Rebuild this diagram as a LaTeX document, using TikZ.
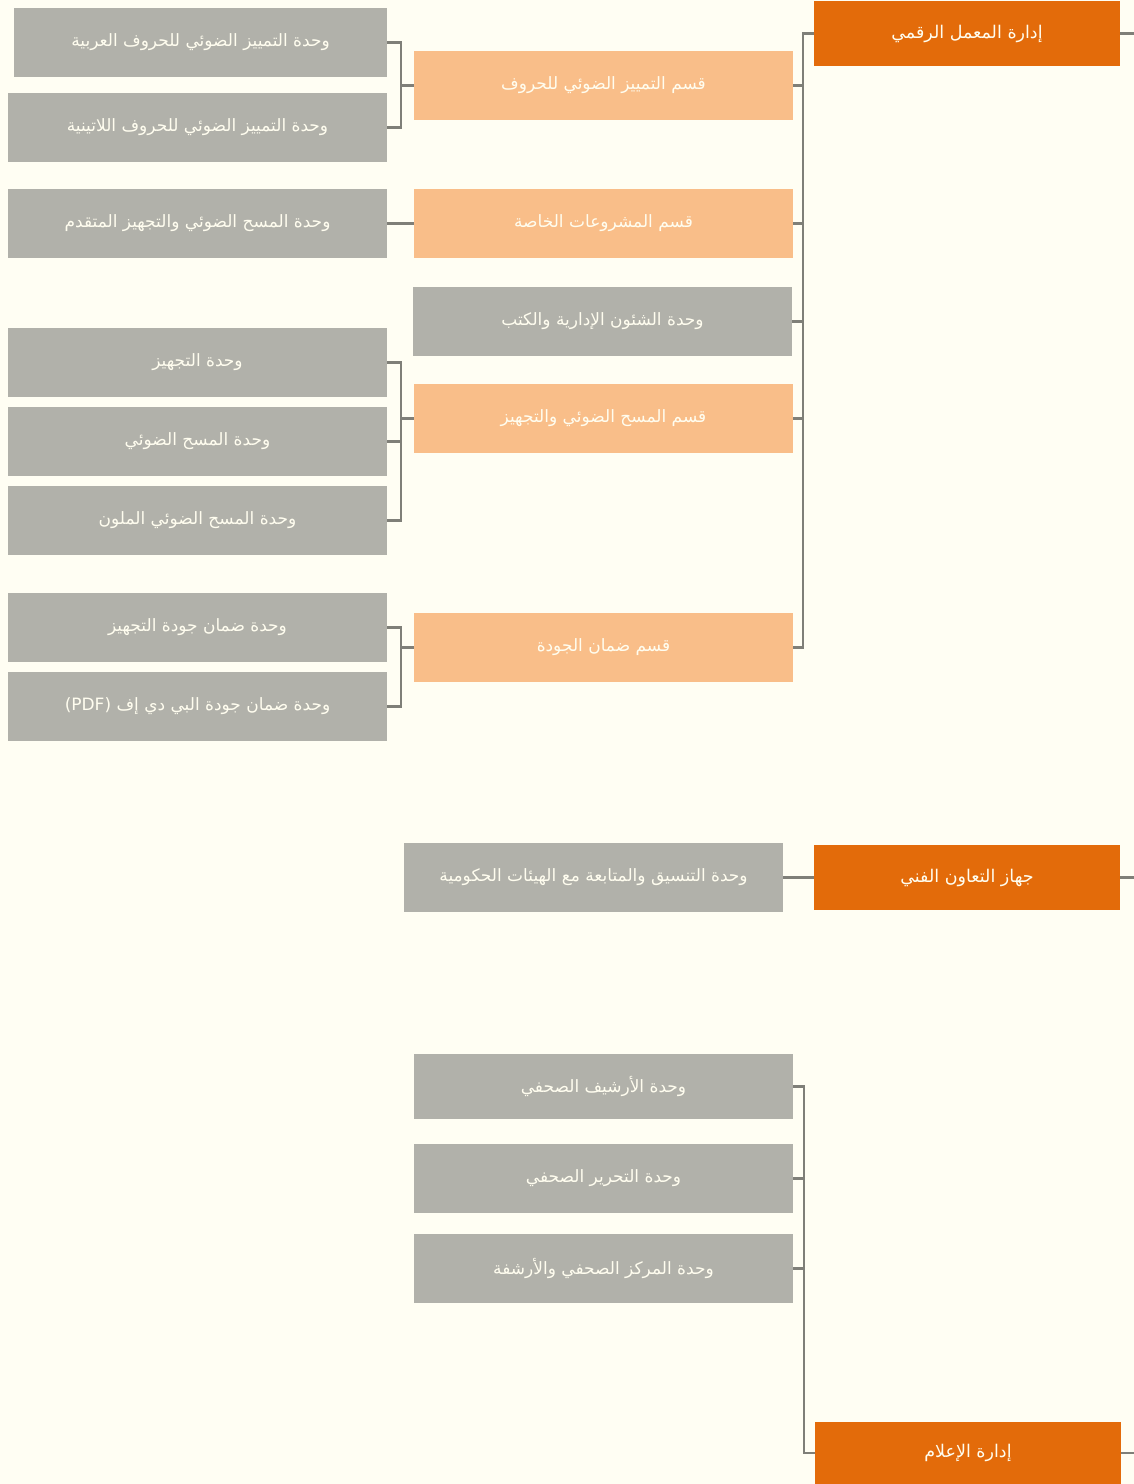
\documentclass[tikz,border=0pt]{standalone}
\usepackage{fontspec}
\newfontfamily\arabicfont[Script=Arabic]{DejaVu Sans}
\TeXXeTstate=1
\definecolor{bgcol}{HTML}{FFFEF3}
\definecolor{orangecol}{HTML}{E36B0A}
\definecolor{peachcol}{HTML}{F9BE89}
\definecolor{greycol}{HTML}{B1B1AA}
\definecolor{linecol}{HTML}{7F7F78}
\definecolor{txtcol}{HTML}{FFFDEF}
\begin{document}
\begin{tikzpicture}[x=1pt,y=-1pt,
  basebox/.style={rectangle, inner sep=0pt, minimum width=379pt, minimum height=69pt,
    text=txtcol, font=\arabicfont\fontsize{17}{20}\selectfont},
  topbox/.style={basebox, fill=orangecol, minimum width=306pt, minimum height=65pt,
    font=\arabicfont\fontsize{17.5}{21}\selectfont},
  secbox/.style={basebox, fill=peachcol},
  unitbox/.style={basebox, fill=greycol},
  conn/.style={draw=linecol, line width=2.5pt}]
\fill[bgcol] (0,0) rectangle (1134,1484);
\useasboundingbox (0,0) rectangle (1134,1484);

% level 1
\node[topbox] (d1) at (967,33.5) {\beginR إدارة المعمل الرقمي\endR};
\node[topbox] (d2) at (967,877.5) {\beginR جهاز التعاون الفني\endR};
\node[topbox, minimum height=62pt] (d3) at (968,1453) {\beginR إدارة الإعلام\endR};

% level 2
\node[secbox] (s1) at (603.5,85.5) {\beginR قسم التمييز الضوئي للحروف\endR};
\node[secbox] (s2) at (603.5,223.5) {\beginR قسم المشروعات الخاصة\endR};
\node[unitbox] (s3) at (602.5,321.5) {\beginR وحدة الشئون الإدارية والكتب\endR};
\node[secbox] (s4) at (603.5,418.5) {\beginR قسم المسح الضوئي والتجهيز\endR};
\node[secbox] (s5) at (603.5,647.5) {\beginR قسم ضمان الجودة\endR};

\node[unitbox] (t1) at (593.5,877.5) {\beginR وحدة التنسيق والمتابعة مع الهيئات الحكومية\endR};

\node[unitbox, minimum height=65pt] (m1) at (603.5,1086.5) {\beginR وحدة الأرشيف الصحفي\endR};
\node[unitbox] (m2) at (603.5,1178.5) {\beginR وحدة التحرير الصحفي\endR};
\node[unitbox] (m3) at (603.5,1268.5) {\beginR وحدة المركز الصحفي والأرشفة\endR};

% level 3
\node[unitbox, minimum width=373pt] (u1) at (200.5,42.5) {\beginR وحدة التمييز الضوئي للحروف العربية\endR};
\node[unitbox] (u2) at (197.5,127.5) {\beginR وحدة التمييز الضوئي للحروف اللاتينية\endR};
\node[unitbox] (u3) at (197.5,223.5) {\beginR وحدة المسح الضوئي والتجهيز المتقدم\endR};
\node[unitbox] (u4) at (197.5,362.5) {\beginR وحدة التجهيز\endR};
\node[unitbox] (u5) at (197.5,441.5) {\beginR وحدة المسح الضوئي\endR};
\node[unitbox] (u6) at (197.5,520.5) {\beginR وحدة المسح الضوئي الملون\endR};
\node[unitbox] (u7) at (197.5,627.5) {\beginR وحدة ضمان جودة التجهيز\endR};
\node[unitbox] (u8) at (197.5,706.5) {(PDF) \beginR وحدة ضمان جودة البي دي إف\endR};

% right free ends
\coordinate (e1) at (1134,33.5);
\coordinate (e2) at (1134,877.5);
\coordinate (e3) at (1134,1453);
\draw[conn] (d1.east) -- (e1);
\draw[conn] (d2.east) -- (e2);
\draw[conn] (d3.east) -- (e3);

% level 1 -> level 2
\foreach \c in {s1,s2,s3,s4,s5}
  \draw[conn] (d1.west) -- ++(-11,0) |- (\c.east);
\draw[conn] (d2.west) -- (t1.east);
\foreach \c in {m1,m2,m3}
  \draw[conn] (d3.west) -- ++(-11,0) |- (\c.east);

% level 2 -> level 3
\foreach \c in {u1,u2}
  \draw[conn] (s1.west) -- ++(-13,0) |- (\c.east);
\draw[conn] (s2.west) -- (u3.east);
\foreach \c in {u4,u5,u6}
  \draw[conn] (s4.west) -- ++(-13,0) |- (\c.east);
\foreach \c in {u7,u8}
  \draw[conn] (s5.west) -- ++(-13,0) |- (\c.east);
\end{tikzpicture}
\end{document}
